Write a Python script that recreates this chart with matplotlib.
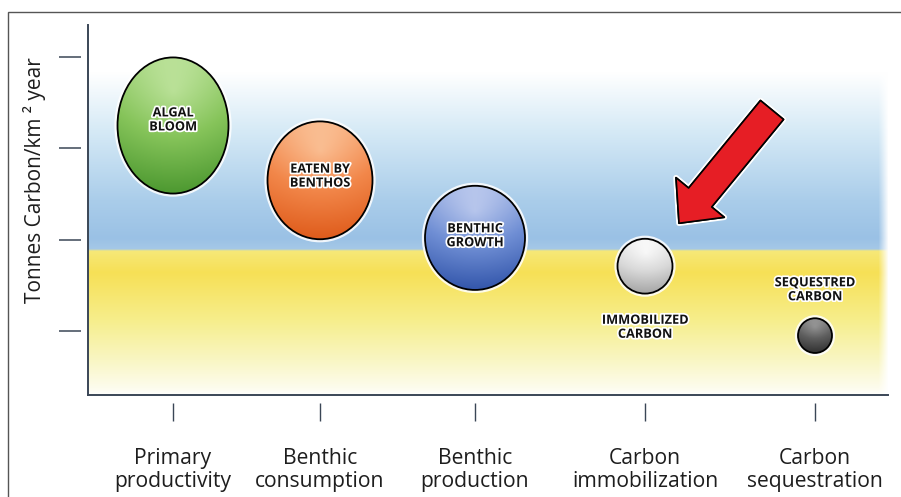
import numpy as np
import matplotlib
matplotlib.use("Agg")
import matplotlib.pyplot as plt
from matplotlib.patches import Ellipse, Rectangle
from matplotlib.colors import to_rgb
import matplotlib.patheffects as pe

# ---------------- data ----------------
stage_labels = ["Primary\nproductivity", "Benthic\nconsumption", "Benthic\nproduction",
                "Carbon\nimmobilization", "Carbon\nsequestration"]
stage_x = [0.85, 2.32, 3.87, 5.57, 7.27]
bubble_labels = ["ALGAL\nBLOOM", "EATEN BY\nBENTHOS", "BENTHIC\nGROWTH",
                 "IMMOBILIZED\nCARBON", "SEQUESTRED\nCARBON"]
carbon_value = [3.25, 2.65, 2.02, 1.71, 0.95]
bubble_width = [1.11, 1.05, 1.00, 0.55, 0.34]
bubble_height = [1.49, 1.29, 1.14, 0.60, 0.38]
y_ticks = [1, 2, 3, 4]
y_label = "Tonnes Carbon/km \u00b2 year"

# ---------------- style ----------------
bubble_colors = [
    ("#c6e8a6", "#86c45a", "#4c9830"),
    ("#fccaa2", "#f2874a", "#df5c1c"),
    ("#c8d3f2", "#6f8ed4", "#3356ab"),
    ("#ffffff", "#d9d9d9", "#a4a4a4"),
    ("#a0a0a0", "#5e5e5e", "#303030"),
]
label_offsets = [4, 3, 1.5, -44, 33]  # points
spine_col = "#3a4656"
FAM = ["Open Sans", "DejaVu Sans"]

fig = plt.figure(figsize=(9.01, 4.97), dpi=100)
ax = fig.add_axes([88 / 901, 1 - 395 / 497, 800 / 901, 370 / 497])
XL = (0, 8)
YL = (0.30, 4.35)
ax.set_xlim(*XL)
ax.set_ylim(*YL)

# outer frame (cropped figure border)
fig.add_artist(Rectangle((8 / 901, -0.2), 1.2, 0.2 + 1 - 12 / 497,
                         transform=fig.transFigure, fill=False,
                         ec="#555555", lw=1.0, clip_on=False))

# ---------------- background gradient ----------------
H, W = 370, 800
py = np.arange(H) + 25  # pixel rows from figure top
stops_y = [25, 72, 130, 200, 238, 248.5, 250.5, 272, 320, 360, 388, 395]
stops_c = [(255, 255, 255), (255, 255, 255), (214, 234, 246), (170, 205, 234),
           (154, 193, 229), (165, 200, 231), (246, 232, 120), (247, 224, 86),
           (246, 238, 140), (249, 246, 196), (253, 252, 238), (255, 255, 255)]
stops_c = np.array(stops_c) / 255.0
col = np.stack([np.interp(py, stops_y, stops_c[:, k]) for k in range(3)], axis=-1)
img = np.repeat(col[:, None, :], W, axis=1)
px = np.arange(W)
fade = np.clip((W - px) / 10.0, 0, 1)[None, :, None]
img = img * fade + (1 - fade)
ax.imshow(img, extent=(XL[0], XL[1], YL[0], YL[1]), aspect="auto",
          origin="upper", zorder=0, interpolation="bilinear")

# ---------------- bubbles ----------------
n = 200
u, v = np.meshgrid(np.linspace(0, 1, n), np.linspace(0, 1, n))
for x, y, w, h, cols, lab, off in zip(stage_x, carbon_value, bubble_width,
                                      bubble_height, bubble_colors, bubble_labels,
                                      label_offsets):
    d = np.sqrt((u - 0.5) ** 2 + (v - 0.25) ** 2) / 0.75
    s = np.clip(0.6 * v + 0.45 * d - 0.05, 0, 1)
    c0, c1, c2 = [np.array(to_rgb(c)) for c in cols]
    bimg = np.where(s[..., None] < 0.5,
                    c0 + (c1 - c0) * (s[..., None] / 0.5),
                    c1 + (c2 - c1) * ((s[..., None] - 0.5) / 0.5))
    glow = Ellipse((x, y), w, h, fill=False, ec="white", lw=4.5, alpha=0.85, zorder=2)
    ax.add_patch(glow)
    ell = Ellipse((x, y), w, h, fc="none", ec="black", lw=1.3, zorder=4)
    ax.add_patch(ell)
    im = ax.imshow(bimg, extent=(x - w / 2, x + w / 2, y - h / 2, y + h / 2),
                   origin="upper", aspect="auto", zorder=3, interpolation="bilinear")
    im.set_clip_path(ell)
    ax.annotate(lab, xy=(x, y), xytext=(0, off), textcoords="offset points",
                ha="center", va="center", fontsize=9.2, fontweight="bold",
                family=FAM, color="#111111",
                linespacing=1.1, zorder=6,
                path_effects=[pe.withStroke(linewidth=2.5, foreground="white")])

ax.set_xlim(*XL)
ax.set_ylim(*YL)

# ---------------- red arrow ----------------
ax.annotate("", xy=(5.91, 2.18), xytext=(6.84, 3.42),
            arrowprops=dict(arrowstyle="simple,head_length=24,head_width=45,tail_width=21.5",
                            mutation_scale=1, fc="#e61e25", ec="black", lw=1.2,
                            shrinkA=0, shrinkB=0,
                            path_effects=[pe.withStroke(linewidth=4, foreground="white"),
                                          pe.Normal()]),
            zorder=7)

# ---------------- axes styling ----------------
for sp in ["top", "right"]:
    ax.spines[sp].set_visible(False)
for sp in ["left", "bottom"]:
    ax.spines[sp].set_color(spine_col)
    ax.spines[sp].set_linewidth(1.4)
ax.set_xticks([])
ax.set_yticks([])

secy = ax.secondary_yaxis(-7 / 800)
secy.spines[:].set_visible(False)
secy.set_yticks(y_ticks)
secy.tick_params(axis="y", direction="out", length=15.8, width=1.1,
                 color=spine_col, labelleft=False)

secx = ax.secondary_xaxis(-8 / 370)
secx.spines[:].set_visible(False)
secx.set_xticks(stage_x, labels=stage_labels)
secx.tick_params(axis="x", direction="out", length=13, width=1.0,
                 color=spine_col, pad=19.5, labelsize=15.2, labelcolor="#1e1e1e")
for t in secx.get_xticklabels():
    t.set_family(FAM)
    t.set_linespacing(1.13)

fig.text(35 / 901, 1 - 180 / 497, y_label, rotation=90, ha="center", va="center",
         fontsize=15, family=FAM, color="#1e1e1e")

fig.savefig("out.png", dpi=100)
